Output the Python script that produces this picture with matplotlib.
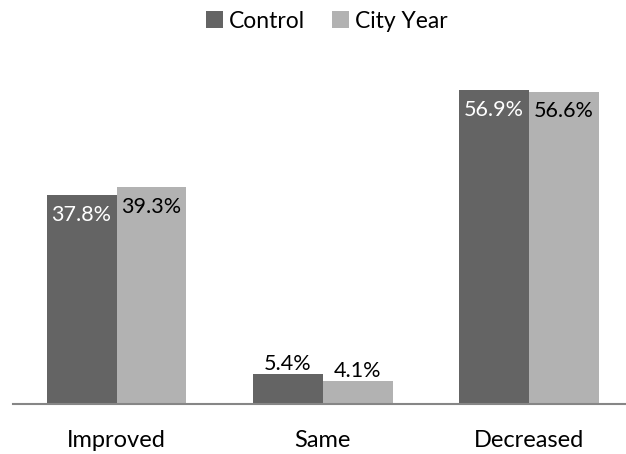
import matplotlib
matplotlib.use("Agg")
import matplotlib.pyplot as plt
import numpy as np

categories = ["Improved", "Same", "Decreased"]
series_names = ["Control", "City Year"]
control = [37.8, 5.4, 56.9]
city_year = [39.3, 4.1, 56.6]
colors = ["#646464", "#b2b2b2"]

plt.rcParams['font.family'] = ['Lato', 'DejaVu Sans']

fig = plt.figure(figsize=(6.26, 4.54), dpi=100)
ax = fig.add_axes([13/626, 50/454, 612/626, 331/454])

x = np.arange(len(categories))
w = 0.339
b1 = ax.bar(x - w/2, control, w, color=colors[0], label=series_names[0])
b2 = ax.bar(x + w/2, city_year, w, color=colors[1], label=series_names[1])

fs_lab = 15.5
for bars, vals, inside_color in [(b1, control, "white"), (b2, city_year, "black")]:
    for rect, v in zip(bars, vals):
        cx = rect.get_x() + rect.get_width()/2
        if v > 10:
            ax.annotate(f"{v:.1f}%", (cx, v), xytext=(0, -7), textcoords="offset points",
                        ha="center", va="top", color=inside_color, fontsize=fs_lab)
        else:
            ax.annotate(f"{v:.1f}%", (cx, v), xytext=(0, 0), textcoords="offset points",
                        ha="center", va="bottom", color="black", fontsize=fs_lab)

ax.set_xlim(-0.502, 2.466)
ax.set_ylim(0, 60)
ax.set_yticks([])
ax.set_xticks(x)
ax.set_xticklabels(categories, fontsize=17)
ax.tick_params(axis="x", length=0, pad=19)
for s in ["top", "right", "left"]:
    ax.spines[s].set_visible(False)
ax.spines["bottom"].set_color("#868686")
ax.spines["bottom"].set_linewidth(1.5)

fig.legend(handles=[b1, b2], labels=series_names, loc="center", bbox_to_anchor=(0.522, 1 - 21/454),
           ncol=2, frameon=False, fontsize=16.5, handlelength=0.75, handleheight=0.75,
           handletextpad=0.25, columnspacing=1.2)

fig.savefig("out.png", dpi=100)
